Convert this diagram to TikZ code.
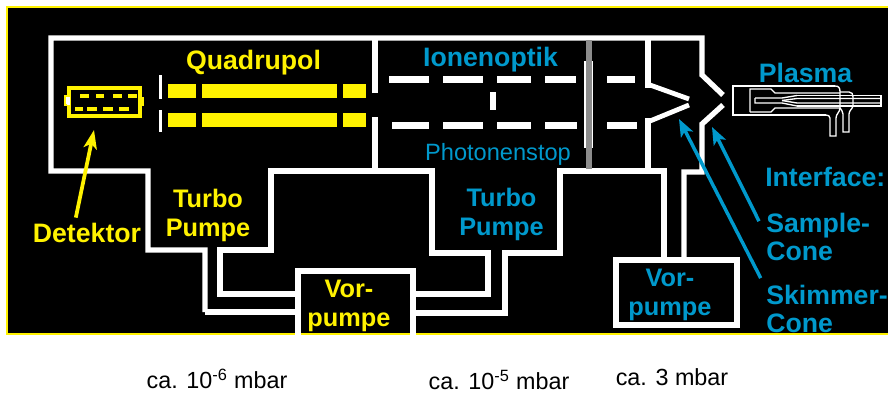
\documentclass[tikz,border=0pt]{standalone}
\usepackage{fontspec}
\setmainfont{Liberation Sans}
\usetikzlibrary{arrows.meta}
\definecolor{ionblue}{RGB}{0,153,204}
\tikzset{
    wall/.style={draw=white, line width=4pt, miter limit=10},
    thinwall/.style={draw=white, line width=1pt},
    yellabel/.style={text=yellow, font=\fontsize{19}{21.75}\selectfont\bfseries, align=center, inner sep=0pt},
    bluelabel/.style={text=ionblue, font=\fontsize{19}{21.75}\selectfont\bfseries, align=center, inner sep=0pt},
    sidelabel/.style={text=ionblue, font=\fontsize{20}{20.8}\selectfont\bfseries, align=left, anchor=west, inner sep=5.25pt},
    pressure/.style={text=black, font=\fontsize{17.5}{19}\selectfont, inner sep=0pt},
    yelarrow/.style={draw=yellow, line width=2.8pt, -{Stealth[length=14pt,width=10pt,inset=3.5pt]}},
    bluearrow/.style={draw=ionblue, line width=2.6pt, -{Stealth[length=13pt,width=10pt,inset=3pt]}}
}
\begin{document}
\begin{tikzpicture}[x=0.75pt,y=-0.75pt]
    \useasboundingbox (0,0) rectangle (888,393);
    \fill[white] (0,0) rectangle (888,393);
    \draw[draw=yellow, fill=black, line width=1.1pt] (7,7) rectangle (889,334);

    % vacuum housing
    \draw[wall] (375,93) -- (375,38);
    \draw[wall] (375,117) -- (375,171);
    \draw[wall] (205,312) -- (205,250) -- (148,250) -- (148,171) -- (51,171) -- (51,38) -- (702,38) -- (702,75) -- (723,95);
    \draw[wall] (298,294) -- (220,294) -- (220,250) -- (271,250) -- (271,171) -- (432,171) -- (432,253) -- (488,253) -- (488,294) -- (413,294);
    \draw[wall] (205,312) -- (298,312);
    \draw[wall] (413,313) -- (505,313) -- (505,253) -- (560,253) -- (560,171) -- (664,171) -- (664,260);
    \draw[wall] (684,260) -- (684,172) -- (702,172) -- (702,124) -- (723,105);

    % skimmer wall and cone
    \draw[draw=white, line width=5.2pt] (648,38) -- (648,88);
    \draw[draw=white, line width=5.2pt] (648,118) -- (648,172);
    \draw[wall, line width=3.6pt] (650,85) -- (689,99);
    \draw[wall, line width=3.6pt] (650,121) -- (689,105);

    % forepumps
    \draw[wall] (298,337) -- (298,271) -- (413,271) -- (413,337);
    \draw[wall] (616,260) -- (737,260) -- (737,325) -- (616,325) -- cycle;

    % detector
    \draw[draw=yellow, fill=white, line width=1.5pt] (65,96) rectangle (70,105);
    \draw[draw=yellow, fill=white, line width=1.5pt] (139,98) rectangle (143,105);
    \draw[draw=yellow, line width=2.5pt] (69,88) rectangle (140,116);
    \fill[white] (67,97) rectangle (70,105);
    \foreach \xa/\xb in {80/89, 96/104, 113/122, 128/137}
        \draw[draw=yellow, line width=2.4pt] (\xa,96) -- (\xb,96);
    \foreach \xa/\xb in {75/83, 87/97, 103/113, 119/129}
        \draw[draw=yellow, line width=2.4pt] (\xa,109) -- (\xb,109);

    % quadrupole rods and entrance slit
    \foreach \xa/\xb in {168/196, 202/337, 343/366} {
        \fill[yellow] (\xa,84) rectangle (\xb,98);
        \fill[yellow] (\xa,113) rectangle (\xb,127);
    }
    \fill[white] (159,75) rectangle (162,99);
    \fill[white] (159,110) rectangle (162,132);

    % ion optics
    \foreach \xa/\xb in {389/429, 443/483, 497/531, 545/576, 607/635}
        \fill[white] (\xa,75.5) rectangle (\xb,82.5);
    \foreach \xa/\xb in {392/429, 443/483, 497/531, 545/577, 607/637}
        \fill[white] (\xa,121.5) rectangle (\xb,128.5);
    \fill[white] (490,92) rectangle (496,110);
    \fill[white] (584,61) rectangle (593,148);
    \fill[black!45] (586,40) rectangle (591.5,169);

    % torch
    \draw[thinwall] (835,86) -- (733,86) -- (733,115) -- (826,115);
    \draw[thinwall] (835,86) .. controls (839,86) and (840,88) .. (840,92) -- (840,108) .. controls (840,112) and (836,114) .. (836,118) -- (836,136) -- (830,136) -- (830,118) .. controls (830,116) and (828,115) .. (826,115);
    \draw[thinwall] (750,112) -- (750,89) -- (771,89) -- (775,93) -- (840,93);
    \draw[thinwall] (750,112) -- (771,112) -- (775,108) -- (840,108);
    \draw[thinwall] (840,92) -- (849,92) .. controls (852,92) and (853,94) .. (853,97) -- (853,105) .. controls (853,109) and (849,110) .. (849,114) -- (849,132) -- (843,132) -- (843,114) .. controls (843,111) and (841,110) .. (840,108);
    \draw[thinwall] (797,95.5) -- (881,95.5) -- (881,106) -- (797,106);
    \draw[thinwall] (755,98) -- (755,103) -- (782,103) -- (797,106);
    \draw[thinwall] (755,98) -- (782,98) -- (797,95.5);
    \draw[thinwall] (782,100.5) -- (797,98.5) -- (881,98.5);
    \draw[thinwall] (782,100.5) -- (797,103) -- (881,103);

    % labels
    \node[yellabel, font=\fontsize{20}{22}\selectfont\bfseries] (quadrupol) at (253.5,62.5) {Quadrupol};
    \node[bluelabel, font=\fontsize{20}{22}\selectfont\bfseries] (ionenoptik) at (490.5,59.5) {Ionenoptik};
    \node[bluelabel, font=\fontsize{17.7}{20}\selectfont] (photonenstop) at (498,154) {Photonenstop};
    \node[bluelabel, font=\fontsize{20}{22}\selectfont\bfseries] (plasma) at (805.5,73) {Plasma};
    \node[yellabel, font=\fontsize{20}{22}\selectfont\bfseries, inner sep=4pt] (detektor) at (87,233) {Detektor};
    \node[yellabel] (turboleft) at (208,215) {Turbo\\Pumpe};
    \node[bluelabel] (turboright) at (501.5,214) {Turbo\\Pumpe};
    \node[yellabel] (vorleft) at (349,306) {Vor-\\pumpe};
    \node[bluelabel] (vorright) at (670,295) {Vor-\\pumpe};
    \node[sidelabel] (interface) at (758,177) {Interface:};
    \node[sidelabel] (sample) at (759,237) {Sample-\\Cone};
    \node[sidelabel] (skimmer) at (759,309) {Skimmer-\\Cone};

    % pointers
    \coordinate (detektortip) at (94,130);
    \coordinate (sampletip) at (712,127);
    \coordinate (skimmertip) at (679,119);
    \draw[yelarrow] (detektor.126) -- (detektortip);
    \draw[bluearrow] (sample.165.5) -- (sampletip);
    \draw[bluearrow] (skimmer.155.3) -- (skimmertip);

    % pressures
    \node[pressure] (plow) at (217,379) {ca. 10\textsuperscript{-6} mbar};
    \node[pressure] (pmid) at (499,380) {ca. 10\textsuperscript{-5} mbar};
    \node[pressure] (phigh) at (672,377) {ca. 3 mbar};
\end{tikzpicture}
\end{document}
